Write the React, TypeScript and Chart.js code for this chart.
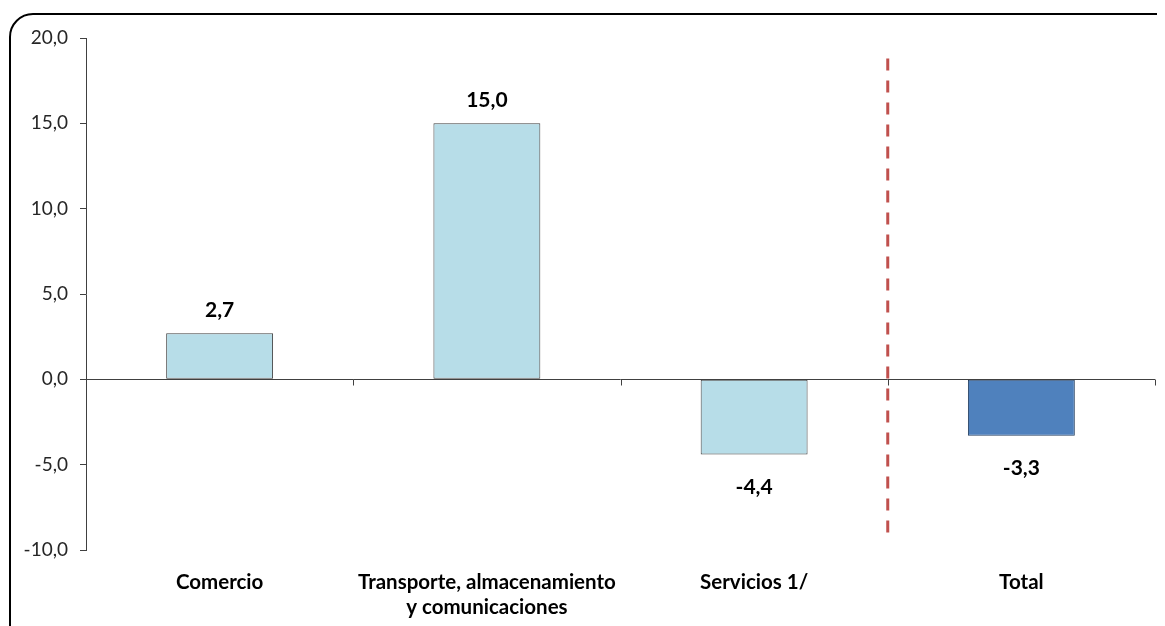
import React, { useEffect, useRef } from "react";
import { Chart, registerables } from "chart.js";
Chart.register(...registerables);

const categories: (string | string[])[] = [
  "Comercio",
  ["Transporte, almacenamiento", "y comunicaciones"],
  "Servicios 1/",
  "Total",
];
const values = [2.7, 15.0, -4.4, -3.3];
const barColors = ["#B7DDE8", "#B7DDE8", "#B7DDE8", "#4F81BD"];
const barBorders = ["#404040", "#404040", "#404040", "#243F60"];
const yMin = -10;
const yMax = 20;
const yStep = 5;
const dividerAfterIndex = 2;
const dividerTop = 18.8;
const dividerBottom = -9.1;

const FONT = "Lato, 'Open Sans', sans-serif";
const fmt = (v: number) => v.toFixed(1).replace(".", ",");

const overlay = {
  id: "overlay",
  afterDatasetsDraw(chart: any) {
    const { ctx, scales, chartArea } = chart;
    const x = scales.x;
    const y = scales.y;
    const y0 = Math.round(y.getPixelForValue(0)) + 0.5;
    ctx.save();
    ctx.strokeStyle = "#404040";
    ctx.lineWidth = 1;
    ctx.beginPath();
    ctx.moveTo(chartArea.left, y0);
    ctx.lineTo(chartArea.right, y0);
    for (let i = 0; i <= categories.length; i++) {
      const px = Math.round(x.getPixelForValue(i - 0.5)) + 0.5;
      ctx.moveTo(px, y0);
      ctx.lineTo(px, y0 + 6);
    }
    ctx.stroke();

    const dx = x.getPixelForValue(dividerAfterIndex + 0.5);
    ctx.strokeStyle = "#C0504D";
    ctx.lineWidth = 3;
    ctx.setLineDash([12, 10]);
    ctx.beginPath();
    ctx.moveTo(dx, y.getPixelForValue(dividerTop));
    ctx.lineTo(dx, y.getPixelForValue(dividerBottom));
    ctx.stroke();
    ctx.setLineDash([]);

    const meta = chart.getDatasetMeta(0);
    ctx.font = `bold 21px ${FONT}`;
    ctx.fillStyle = "#000";
    ctx.textAlign = "center";
    ctx.textBaseline = "middle";
    meta.data.forEach((bar: any, i: number) => {
      const v = values[i];
      const yy = v >= 0 ? bar.y - 23 : bar.y + 33;
      ctx.fillText(fmt(v), bar.x, yy);
    });
    ctx.restore();
  },
};

export default function App() {
  const ref = useRef<HTMLCanvasElement>(null);
  useEffect(() => {
    if (!ref.current) return;
    const chart = new Chart(ref.current, {
      type: "bar",
      data: {
        labels: categories as any,
        datasets: [
          {
            data: values,
            backgroundColor: barColors,
            borderColor: barBorders,
            borderWidth: 1,
            borderSkipped: false,
            categoryPercentage: 1,
            barPercentage: 0.4,
          },
        ],
      },
      options: {
        animation: false,
        responsive: false,
        devicePixelRatio: 1,
        layout: { padding: { left: 0, right: 10, top: 30, bottom: 0 } },
        plugins: {
          legend: { display: false },
          tooltip: { enabled: false },
        },
        scales: {
          x: {
            grid: { display: false },
            border: { display: false },
            ticks: {
              font: { family: FONT, size: 20.5, weight: "bold", lineHeight: 1.22 },
              color: "#000",
              padding: 12,
              maxRotation: 0,
              autoSkip: false,
            },
            afterFit: (s: any) => {
              s.height = 76;
            },
          },
          y: {
            min: yMin,
            max: yMax,
            ticks: {
              stepSize: yStep,
              font: { family: FONT, size: 19 },
              color: "#262626",
              padding: 12,
              callback: (v: any) => fmt(Number(v)),
            },
            grid: { drawOnChartArea: false, drawTicks: true, tickLength: 6, color: "#404040" },
            border: { display: true, color: "#404040" },
            afterFit: (s: any) => {
              s.width = 78;
            },
          },
        },
      },
      plugins: [overlay],
    });
    return () => chart.destroy();
  }, []);

  return (
    <div style={{ position: "relative", width: 1157, height: 618, overflow: "hidden" }}>
      <div
        style={{
          position: "absolute",
          left: 1,
          top: 5,
          width: 1200,
          height: 660,
          border: "2px solid #000",
          borderRadius: 24,
          boxSizing: "border-box",
        }}
      />
      <canvas
        ref={ref}
        width={1157}
        height={618}
        style={{ position: "absolute", left: 0, top: 0, width: 1157, height: 618 }}
      />
    </div>
  );
}
